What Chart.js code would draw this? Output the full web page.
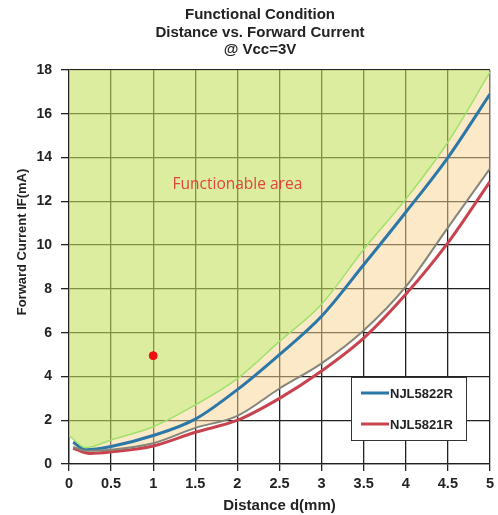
<!DOCTYPE html>
<html>
<head>
<meta charset="utf-8">
<script src="https://cdn.jsdelivr.net/npm/chart.js@4.4.0/dist/chart.umd.min.js"></script>
<style>
  html, body { margin: 0; padding: 0; background: #fff; }
  #wrap { width: 498px; height: 515px; }
</style>
</head>
<body>
<div id="wrap"><canvas id="chart" width="498" height="515"></canvas></div>
<script>
// Distance d(mm) vs. forward current IF(mA)
const boundaryPts = [[0, 1.3], [0.2, 0.75], [0.5, 1.1], [1, 1.7], [1.5, 2.7], [2, 3.9], [2.5, 5.6], [3, 7.3], [3.5, 9.8], [4, 12.1], [4.5, 14.7], [5, 17.9]];
const grayPts = [[0.05, 0.78], [0.2, 0.6], [0.5, 0.65], [1, 0.95], [1.5, 1.65], [2, 2.2], [2.5, 3.45], [3, 4.6], [3.5, 6.1], [4, 8.1], [4.5, 10.8], [5, 13.5]];
const njl5822Pts = [[0.05, 1.0], [0.2, 0.65], [0.5, 0.8], [1, 1.3], [1.5, 2.05], [2, 3.4], [2.5, 5.0], [3, 6.75], [3.5, 9.1], [4, 11.5], [4.5, 14.0], [5, 16.9]];
const njl5821Pts = [[0.05, 0.72], [0.25, 0.48], [0.5, 0.55], [1, 0.82], [1.5, 1.45], [2, 2.0], [2.5, 3.0], [3, 4.25], [3.5, 5.75], [4, 7.75], [4.5, 10.1], [5, 12.9]];
const markerPt = [[1, 4.95]];
const seriesNames = ['NJL5822R', 'NJL5821R'];
const titleLines = ['Functional Condition', 'Distance vs. Forward Current', '@ Vcc=3V'];
const areaLabel = 'Functionable area';
const yTitle = 'Forward Current IF(mA)';

const toXY = pts => pts.map(p => ({ x: p[0], y: p[1] }));

const BLUE = '#2a77a8';
const RED = '#c8434e';
const FONT = '"Liberation Sans", Arial, sans-serif';

// title, y title, area label and legend box
const extras = {
    id: 'extras',
    afterDraw(chart) {
        const ctx = chart.ctx;
        const xs = chart.scales.x, ys = chart.scales.y;
        ctx.save();
        ctx.fillStyle = '#222';
        ctx.font = 'bold 15px ' + FONT;
        ctx.textAlign = 'center';
        ctx.textBaseline = 'middle';
        titleLines.forEach((t, i) => ctx.fillText(t, 260, 15 + i * 17.5));

        ctx.save();
        ctx.translate(22, 242);
        ctx.rotate(-Math.PI / 2);
        ctx.font = 'bold 13px ' + FONT;
        ctx.fillText(yTitle, 0, 0);
        ctx.restore();

        ctx.fillStyle = '#e0443c';
        ctx.font = '15.5px "Open Sans", "Noto Sans", sans-serif';
        ctx.fillText(areaLabel, xs.getPixelForValue(2.0), ys.getPixelForValue(12.75));

        // legend
        const bx = 351, by = 377, bw = 115, bh = 63;
        ctx.fillStyle = '#fff';
        ctx.fillRect(bx, by, bw, bh);
        ctx.strokeStyle = '#333';
        ctx.lineWidth = 1;
        ctx.strokeRect(bx + 0.5, by + 0.5, bw, bh);
        const cols = [BLUE, RED];
        seriesNames.forEach((n, i) => {
            const y = 393 + i * 31;
            ctx.strokeStyle = cols[i];
            ctx.lineWidth = 3;
            ctx.beginPath();
            ctx.moveTo(361, y);
            ctx.lineTo(389, y);
            ctx.stroke();
            ctx.fillStyle = '#222';
            ctx.font = 'bold 13px ' + FONT;
            ctx.textAlign = 'left';
            ctx.fillText(n, 390, y + 1);
        });
        ctx.restore();
    }
};

const config = {
    type: 'line',
    data: {
        datasets: [
            {
                label: 'boundary',
                data: toXY(boundaryPts),
                borderColor: '#9fe26a',
                borderWidth: 1.5,
                backgroundColor: 'rgba(196,224,90,0.58)',
                fill: 'end',
                pointRadius: 0,
                cubicInterpolationMode: 'monotone'
            },
            {
                label: 'gray',
                data: toXY(grayPts),
                borderColor: '#85857a',
                borderWidth: 2,
                backgroundColor: 'rgba(250,212,145,0.5)',
                fill: '-1',
                pointRadius: 0,
                cubicInterpolationMode: 'monotone'
            },
            {
                label: seriesNames[0],
                data: toXY(njl5822Pts),
                borderColor: BLUE,
                borderWidth: 3,
                fill: false,
                pointRadius: 0,
                cubicInterpolationMode: 'monotone'
            },
            {
                label: seriesNames[1],
                data: toXY(njl5821Pts),
                borderColor: RED,
                borderWidth: 3,
                fill: false,
                pointRadius: 0,
                cubicInterpolationMode: 'monotone'
            },
            {
                label: 'marker',
                data: toXY(markerPt),
                showLine: false,
                pointRadius: 4,
                pointBackgroundColor: '#ee1111',
                pointBorderColor: '#ee1111',
                fill: false
            }
        ]
    },
    options: {
        responsive: false,
        animation: false,
        layout: { padding: { top: 70, right: 7, left: 0, bottom: 0 } },
        plugins: {
            legend: { display: false },
            title: { display: false },
            tooltip: { enabled: false },
            filler: { drawTime: 'beforeDatasetsDraw' }
        },
        scales: {
            x: {
                type: 'linear',
                min: 0, max: 5,
                afterFit: s => { s.height = 51; },
                ticks: {
                    stepSize: 0.5,
                    color: '#222',
                    padding: 4,
                    maxRotation: 0,
                    callback: v => String(v),
                    font: { family: FONT, size: 14.5, weight: 'bold' }
                },
                grid: { color: '#222', lineWidth: 1.3, tickLength: 7 },
                border: { color: '#222', width: 1.3 },
                title: {
                    display: true,
                    text: 'Distance d(mm)',
                    color: '#222',
                    padding: { top: 4, bottom: 0 },
                    font: { family: FONT, size: 15, weight: 'bold' }
                }
            },
            y: {
                type: 'linear',
                min: 0, max: 18,
                afterFit: s => { s.width = 69; },
                ticks: {
                    stepSize: 2,
                    color: '#222',
                    padding: 9,
                    font: { family: FONT, size: 14, weight: 'bold' }
                },
                grid: { color: '#222', lineWidth: 1.3, tickLength: 8 },
                border: { color: '#222', width: 1.3 },
                title: { display: false }
            }
        }
    },
    plugins: [extras]
};

window.addEventListener('DOMContentLoaded', () => {
    new Chart(document.getElementById('chart'), config);
});
</script>
</body>
</html>
